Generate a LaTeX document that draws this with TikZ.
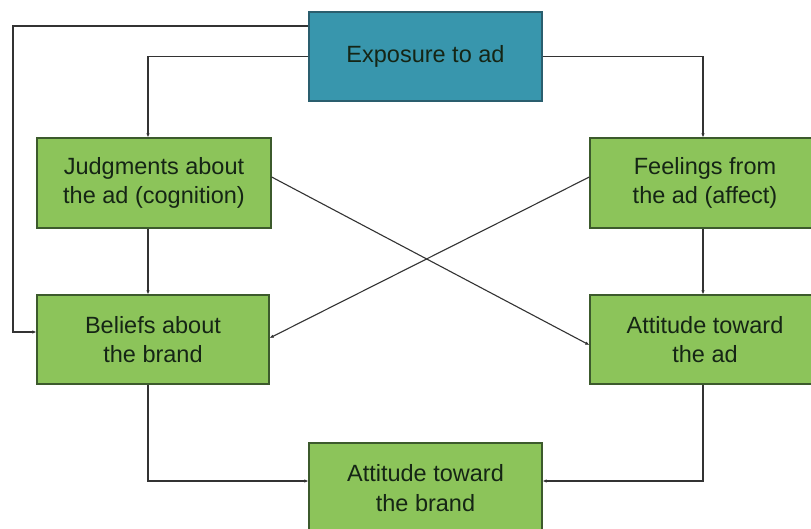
\documentclass[tikz,border=0pt]{standalone}
\usepackage{fontspec}
\setmainfont{Liberation Sans}
\usetikzlibrary{arrows.meta}
\definecolor{boxgreen}{HTML}{8CC45A}
\definecolor{boxteal}{HTML}{3896AD}
\definecolor{greenedge}{HTML}{3C5A2C}
\definecolor{tealedge}{HTML}{2A5E6E}
\definecolor{txt}{HTML}{152515}
\definecolor{wire}{HTML}{333333}
\tikzset{
  gbox/.style={draw=greenedge, line width=1.3pt, fill=boxgreen, rectangle, align=center,
    text=txt, font=\fontsize{23.5}{29.5}\selectfont, inner sep=0pt},
  tbox/.style={gbox, draw=tealedge, fill=boxteal},
  arr/.style={draw=wire, line width=1.1pt, -{Latex[length=4pt,width=3.5pt]}}
}
\begin{document}
\begin{tikzpicture}[x=1pt,y=-1pt]
\useasboundingbox (0,0) rectangle (811,529);
\clip (0,0) rectangle (811,529);
\fill[white] (0,0) rectangle (811,529);
\node[tbox, minimum width=233pt, minimum height=89pt] (exp) at (425.5,56.5) {Exposure to ad};
\node[gbox, minimum width=234pt, minimum height=90pt] (jud) at (154,183) {Judgments about\\the ad (cognition)};
\node[gbox, minimum width=230pt, minimum height=90pt] (fee) at (705,183) {Feelings from\\the ad (affect)};
\node[gbox, minimum width=232pt, minimum height=89pt] (bel) at (153,339.5) {Beliefs about\\the brand};
\node[gbox, minimum width=230pt, minimum height=89pt] (ata) at (705,339.5) {Attitude toward\\the ad};
\node[gbox, minimum width=233pt, minimum height=90pt] (atb) at (425.5,488) {Attitude toward\\the brand};
\coordinate (lt) at (13,26);
\draw[arr] ([yshift=30.5pt]exp.west) -- (lt) |- ([yshift=7.5pt]bel.west);
\draw[arr] (exp.west) -| ([xshift=-6pt]jud.north);
\draw[arr] (exp.east) -| ([xshift=-2pt]fee.north);
\draw[arr] ([xshift=-6pt]jud.south) -- ([xshift=-5pt]bel.north);
\draw[arr] ([xshift=-2pt]fee.south) -- ([xshift=-2pt]ata.north);
\draw[arr] ([yshift=6pt]jud.east) -- ([yshift=-5.5pt]ata.west);
\draw[arr] ([yshift=6pt]fee.west) -- ([yshift=1.5pt]bel.east);
\draw[arr] ([xshift=-5pt]bel.south) |- ([yshift=7pt]atb.west);
\draw[arr] ([xshift=-2pt]ata.south) |- ([yshift=7pt]atb.east);
\end{tikzpicture}
\end{document}
